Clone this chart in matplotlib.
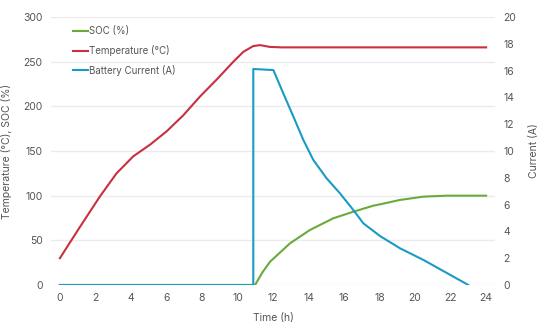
import matplotlib
matplotlib.use("Agg")
import matplotlib.pyplot as plt

# Values
temp_t = [0, 1.13, 2.25, 3.19, 4.13, 5.07, 6.01, 6.95, 7.89, 8.83, 9.77, 10.33, 10.89, 11.27, 11.83, 12.5, 14, 16, 18, 20, 22, 24]
temp_v = [30, 65, 99, 125, 144, 157, 172, 190, 211, 230, 250, 261, 267.5, 268.5, 266.5, 266, 266, 266, 266, 266, 266, 266]

soc_t = [0, 10.99, 11.4, 11.83, 12.96, 14.08, 15.4, 16.52, 17.65, 18.03, 19.15, 20.47, 21.8, 24]
soc_v = [0, 0, 14, 26, 46.7, 61.6, 74.7, 82, 88.8, 90.3, 95.2, 98.9, 100, 100]

cur_t = [0, 10.89, 10.89, 12.02, 12.58, 13.15, 13.71, 14.27, 15.02, 15.77, 16.52, 17.09, 18.03, 19.15, 20.47, 23.0]
cur_v = [0, 0, 16.12, 16.04, 14.3, 12.56, 10.82, 9.33, 7.96, 6.84, 5.6, 4.6, 3.65, 2.74, 1.87, 0.0]

x_ticks = list(range(0, 25, 2))
left_ticks = list(range(0, 301, 50))
right_ticks = list(range(0, 21, 2))

green = "#6aaa3c"
red = "#c8303f"
blue = "#1a9bc5"
text_grey = "#555555"
grid_color = "#ebebeb"

plt.rcParams["font.family"] = ["Inter", "DejaVu Sans"]

fig = plt.figure(figsize=(5.4, 3.24), dpi=100)
ax1 = fig.add_axes([51 / 540, 1 - 285 / 324, 444 / 540, 268 / 324])
ax2 = ax1.twinx()

ax1.set_axisbelow(True)
ax1.grid(axis="y", color=grid_color, linewidth=1)
ax1.grid(axis="x", visible=False)

l1, = ax1.plot(soc_t, soc_v, color=green, linewidth=1.5, label="SOC (%)")
l2, = ax1.plot(temp_t, temp_v, color=red, linewidth=1.5, label="Temperature (°C)")
l3, = ax2.plot(cur_t, cur_v, color=blue, linewidth=1.5, label="Battery Current (A)")

ax1.set_xlim(-0.5, 24.5)
ax1.set_ylim(0, 300)
ax2.set_ylim(0, 20)
ax1.set_xticks(x_ticks)
ax1.set_yticks(left_ticks)
ax2.set_yticks(right_ticks)

for ax in (ax1, ax2):
    for s in ax.spines.values():
        s.set_visible(False)
    ax.tick_params(length=0, labelsize=7.5, colors=text_grey, pad=6)

ax1.set_xlabel("Time (h)", fontsize=7.5, color=text_grey, labelpad=7)
ax1.set_ylabel("Temperature (°C), SOC (%)", fontsize=7.5, color=text_grey, labelpad=8)
ax2.set_ylabel("Current (A)", fontsize=7.5, color=text_grey, labelpad=9)

leg = ax1.legend(handles=[l1, l2, l3], loc="upper left", bbox_to_anchor=(0.04, 0.98),
                 frameon=False, fontsize=7, handlelength=1.6, handletextpad=0.1,
                 labelspacing=0.9, borderaxespad=0)
for t in leg.get_texts():
    t.set_color(text_grey)

fig.savefig("out.png", dpi=100)
